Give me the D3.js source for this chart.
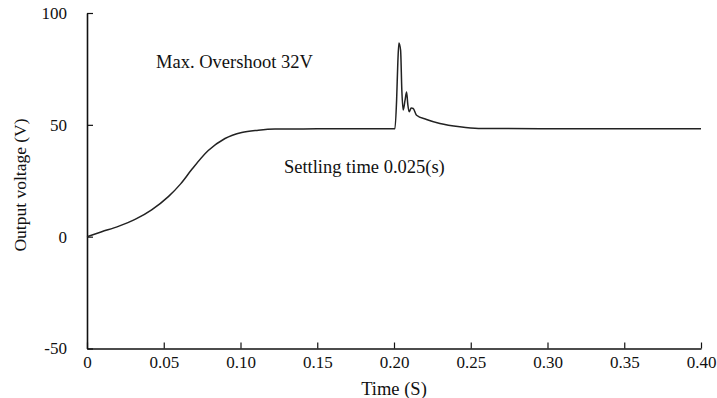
<!DOCTYPE html>
<html lang="en">
<head>
<meta charset="UTF-8">
<title>Output voltage</title>
<style>
    body { margin: 0; background: #fff; }
    svg text { font-family: "Liberation Serif", "Times New Roman", serif; fill: #111; }
</style>
<script src="https://d3js.org/d3.v7.min.js"></script>
</head>
<body>
<div id="chart"></div>
<script>
    // time (s) and output voltage (V)
    const time = [0, 0.0096, 0.0204, 0.0313, 0.0421, 0.053, 0.061, 0.0682, 0.079, 0.0899, 0.1008,
        0.1116, 0.1225, 0.15, 0.18, 0.2006, 0.2017, 0.2025, 0.2032, 0.2043, 0.2051, 0.206,
        0.2072, 0.2082, 0.209, 0.2099, 0.2112, 0.2125, 0.2147, 0.2212, 0.2299, 0.2429, 0.255, 0.3, 0.35, 0.4];
    const volts = [0, 2.2, 4.6, 7.7, 12.0, 17.9, 23.6, 30.0, 38.5, 43.9, 46.6,
        47.6, 48.1, 48.2, 48.3, 48.3, 61, 78, 86.6, 83.3, 65.5, 56.6,
        61, 64.7, 59, 55.8, 57.5, 57.3, 54.3, 52.4, 50.6, 49.1, 48.4, 48.3, 48.3, 48.3];

    const xTicks = [0, 0.05, 0.10, 0.15, 0.20, 0.25, 0.30, 0.35, 0.40];
    const xTickLabels = ["0", "0.05", "0.10", "0.15", "0.20", "0.25", "0.30", "0.35", "0.40"];
    const yTicks = [-50, 0, 50, 100];

    const notes = [
        { t: 0.045, v: 75.3, text: "Max. Overshoot 32V" },
        { t: 0.1283, v: 28.6, text: "Settling time 0.025(s)" }
    ];

    const W = 717, H = 398;
    const svg = d3.select("#chart").append("svg")
        .attr("width", W)
        .attr("height", H);

    const x = d3.scaleLinear().domain([0, 0.4]).range([87, 701]);
    const y = d3.scaleLinear().domain([-50, 100]).range([348.5, 13]);

    // x axis, ticks pointing up into the plot
    const xAxis = svg.append("g")
        .attr("transform", `translate(0,${y(-50)})`)
        .call(d3.axisBottom(x).tickValues(xTicks)
            .tickFormat((d, i) => xTickLabels[i])
            .tickSizeInner(-6).tickSizeOuter(0).tickPadding(7));
    xAxis.select(".domain").attr("stroke", "#111").attr("stroke-width", 1.6);
    xAxis.selectAll(".tick line").attr("stroke", "#111").attr("stroke-width", 1.2);
    xAxis.selectAll("text").style("font-size", "17px").attr("fill", "#111");

    // y axis, ticks pointing right
    const yAxis = svg.append("g")
        .attr("transform", `translate(${x(0)},0)`)
        .call(d3.axisLeft(y).tickValues(yTicks)
            .tickFormat(d => String(d))
            .tickSizeInner(-6).tickSizeOuter(0).tickPadding(20));
    yAxis.select(".domain").attr("stroke", "#111").attr("stroke-width", 1.6);
    yAxis.selectAll(".tick line").attr("stroke", "#111").attr("stroke-width", 1.2);
    yAxis.selectAll("text").style("font-size", "17px").attr("fill", "#111");

    // axis titles
    svg.append("text")
        .attr("x", 394)
        .attr("y", 395)
        .attr("text-anchor", "middle")
        .style("font-size", "18.5px")
        .text("Time (S)");

    svg.append("text")
        .attr("transform", "translate(26,185) rotate(-90)")
        .attr("text-anchor", "middle")
        .style("font-size", "17.5px")
        .text("Output voltage (V)");

    // the response curve
    const pts = time.map((t, i) => ({ t: t, v: volts[i] }));
    svg.append("path")
        .datum(pts)
        .attr("fill", "none")
        .attr("stroke", "#222")
        .attr("stroke-width", 1.5)
        .attr("stroke-linejoin", "round")
        .attr("d", d3.line()
            .x(d => x(d.t))
            .y(d => y(d.v))
            .curve(d3.curveMonotoneX));

    // annotations
    svg.selectAll(".note")
        .data(notes)
        .enter().append("text")
        .attr("class", "note")
        .attr("x", d => x(d.t))
        .attr("y", d => y(d.v))
        .style("font-size", "18.5px")
        .text(d => d.text);
</script>
</body>
</html>
